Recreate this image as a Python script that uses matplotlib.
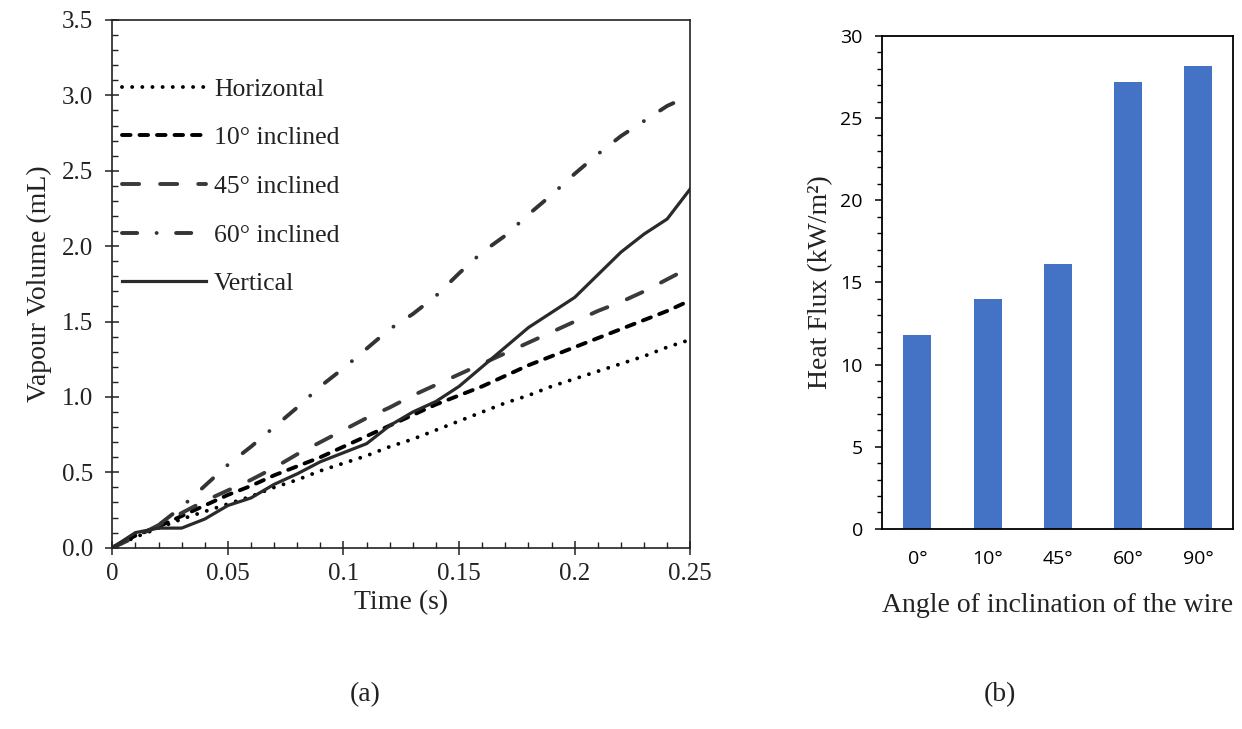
import matplotlib
matplotlib.use("Agg")
import matplotlib.pyplot as plt
from matplotlib.ticker import MultipleLocator, FormatStrFormatter

# ---- (a) vapour volume vs time ----
time_s = [0.00, 0.01, 0.02, 0.03, 0.04, 0.05, 0.06, 0.07, 0.08, 0.09,
          0.10, 0.11, 0.12, 0.13, 0.14, 0.15, 0.16, 0.17, 0.18, 0.19,
          0.20, 0.21, 0.22, 0.23, 0.24, 0.25]
horizontal = [0.00, 0.07, 0.13, 0.19, 0.24, 0.29, 0.34, 0.40, 0.45, 0.51,
              0.56, 0.61, 0.67, 0.72, 0.78, 0.84, 0.90, 0.96, 1.01, 1.07,
              1.12, 1.17, 1.22, 1.27, 1.33, 1.38]
incl_10 = [0.00, 0.08, 0.14, 0.21, 0.28, 0.35, 0.41, 0.48, 0.54, 0.60,
           0.67, 0.74, 0.81, 0.88, 0.95, 1.01, 1.07, 1.14, 1.21, 1.27,
           1.33, 1.39, 1.45, 1.51, 1.57, 1.64]
incl_45 = [0.00, 0.07, 0.15, 0.23, 0.31, 0.38, 0.45, 0.53, 0.62, 0.70,
           0.78, 0.86, 0.93, 1.01, 1.08, 1.15, 1.22, 1.29, 1.36, 1.43,
           1.50, 1.57, 1.63, 1.70, 1.78, 1.86]
incl_60 = [0.00, 0.08, 0.15, 0.27, 0.41, 0.55, 0.67, 0.80, 0.93, 1.07,
           1.19, 1.32, 1.45, 1.55, 1.67, 1.82, 1.96, 2.07, 2.21, 2.34,
           2.48, 2.61, 2.73, 2.83, 2.93, 3.00]
vertical = [0.00, 0.10, 0.13, 0.13, 0.19, 0.28, 0.33, 0.42, 0.49, 0.57,
            0.63, 0.69, 0.81, 0.90, 0.97, 1.07, 1.20, 1.33, 1.46, 1.56,
            1.66, 1.81, 1.96, 2.08, 2.18, 2.38]
series_labels = ["Horizontal", "10° inclined", "45° inclined",
                 "60° inclined", "Vertical"]
x_tick_values = [0, 0.05, 0.1, 0.15, 0.2, 0.25]
x_tick_labels = ["0", "0.05", "0.1", "0.15", "0.2", "0.25"]

# ---- (b) heat flux vs wire angle ----
angles = ["0°", "10°", "45°", "60°", "90°"]
heat_flux = [11.8, 14.0, 16.1, 27.2, 28.2]

SERIF = ["Liberation Serif", "DejaVu Serif"]
SANS = ["Open Sans", "DejaVu Sans"]

plt.rcParams["font.family"] = SERIF

fig = plt.figure(figsize=(12.42, 7.29), dpi=100)
fig.patch.set_facecolor("white")

ax = fig.add_axes([0.0904, 0.2487, 0.4654, 0.7239])

styles = [
    dict(color="black", lw=2.8, linestyle=(0, (0.01, 2.6)),
         dash_capstyle="round"),
    dict(color="black", lw=2.8, linestyle=(0, (2.2, 2.3)),
         dash_capstyle="round"),
    dict(color="#3a3a3a", lw=2.8, linestyle=(0, (4.4, 5.4)),
         dash_capstyle="round"),
    dict(color="#333333", lw=2.8, linestyle=(0, (3.9, 5.0, 0.01, 5.0)),
         dash_capstyle="round"),
    dict(color="#2a2a2a", lw=2.3, linestyle="-"),
]
for ys, lab, st in zip([horizontal, incl_10, incl_45, incl_60, vertical],
                       series_labels, styles):
    ax.plot(time_s, ys, label=lab, **st)

ax.set_xlim(0, 0.25)
ax.set_ylim(0, 3.5)
ax.set_xticks(x_tick_values)
ax.set_xticklabels(x_tick_labels)
ax.set_yticks([0, 0.5, 1.0, 1.5, 2.0, 2.5, 3.0, 3.5])
ax.yaxis.set_major_formatter(FormatStrFormatter("%.1f"))
ax.xaxis.set_minor_locator(MultipleLocator(0.01))
ax.yaxis.set_minor_locator(MultipleLocator(0.1))
ax.tick_params(which="major", direction="inout", length=10, width=1.1,
               labelsize=18, color="#222222", labelcolor="#222222")
ax.tick_params(axis="x", which="major", pad=6)
ax.tick_params(axis="y", which="major", pad=9)
ax.tick_params(which="minor", direction="in", length=4, width=1.0,
               color="#222222")
for sp in ax.spines.values():
    sp.set_linewidth(1.2)
    sp.set_color("#222222")

ax.set_xlabel("Time (s)", fontsize=20, color="#222222", labelpad=4)
ax.set_ylabel("Vapour Volume (mL)", fontsize=20, color="#222222", labelpad=7)

leg = ax.legend(loc="upper left", bbox_to_anchor=(-0.015, 0.925),
                frameon=False, fontsize=18.5, handlelength=3.3,
                handletextpad=0.3, labelspacing=1.0, borderaxespad=0.3)
for t in leg.get_texts():
    t.set_color("#222222")

# ---- (b) bar chart ----
ax2 = fig.add_axes([0.7104, 0.2746, 0.2824, 0.676])
pos = list(range(len(angles)))
ax2.bar(pos, heat_flux, width=0.4, color="#4472C4", zorder=2)
ax2.set_xlim(-0.5, len(angles) - 0.5)
ax2.set_ylim(0, 30)
ax2.set_xticks(pos)
ax2.set_xticklabels(angles, fontfamily=SANS, fontsize=14)
ax2.set_yticks([0, 5, 10, 15, 20, 25, 30])
ax2.yaxis.set_minor_locator(MultipleLocator(1))
for lbl in ax2.get_yticklabels():
    lbl.set_fontfamily(SANS)
ax2.tick_params(axis="y", which="major", direction="out", length=5,
                width=1.1, labelsize=14, pad=9)
ax2.tick_params(axis="y", which="minor", direction="out", length=3.5,
                width=1.0)
ax2.tick_params(axis="x", which="both", length=0, pad=15, labelsize=14)
for sp in ax2.spines.values():
    sp.set_linewidth(1.3)
    sp.set_color("black")

ax2.set_ylabel("Heat Flux (kW/m²)", fontsize=20, color="#222222", labelpad=5)
ax2.set_xlabel("Angle of inclination of the wire", fontsize=20,
               color="#222222", labelpad=18)

fig.text(0.294, 0.047, "(a)", fontsize=20, ha="center", va="center",
         color="#222222")
fig.text(0.805, 0.047, "(b)", fontsize=20, ha="center", va="center",
         color="#222222")

fig.savefig("out.png", dpi=100, facecolor="white")
